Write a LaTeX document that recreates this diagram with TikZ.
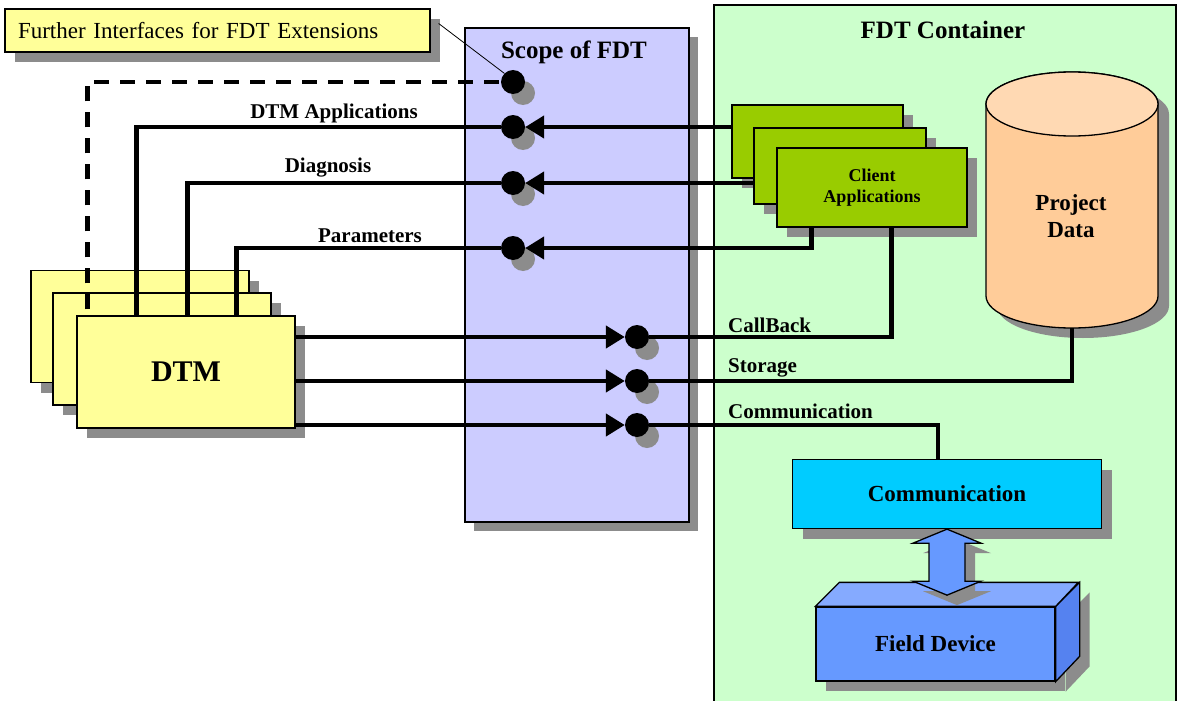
\documentclass[tikz,border=0pt]{standalone}
\usepackage{fontspec}
\setmainfont{Liberation Serif}
\usetikzlibrary{positioning, arrows.meta, shadows}
\definecolor{pale}{RGB}{255,255,153}
\definecolor{lila}{RGB}{204,204,255}
\definecolor{mint}{RGB}{204,255,204}
\definecolor{leaf}{RGB}{153,204,0}
\definecolor{peach}{RGB}{255,204,153}
\definecolor{peachtop}{RGB}{255,217,179}
\definecolor{sky}{RGB}{0,204,255}
\definecolor{devblue}{RGB}{102,153,255}
\definecolor{devtop}{RGB}{133,170,255}
\definecolor{devside}{RGB}{85,130,240}
\definecolor{shadowc}{RGB}{140,140,140}
\tikzset{
    shd/.style={drop shadow={shadow xshift=10pt, shadow yshift=-10pt, fill=shadowc, opacity=1}},
    ballshd/.style={drop shadow={shadow xshift=10pt, shadow yshift=-11pt, fill=shadowc, opacity=1}},
    card/.style={draw, line width=1.3pt, inner sep=0pt},
    dtm/.style={card, fill=pale, minimum width=218pt, minimum height=112pt, shd},
    cli/.style={card, fill=leaf, shd},
    ball/.style={circle, fill=black, minimum size=24pt, inner sep=0pt, ballshd},
    wire/.style={line width=4.5pt},
    sock/.style={wire, -{Triangle[length=19pt, width=22pt]}},
    lbl/.style={font=\fontsize{21}{24}\selectfont\bfseries, inner sep=0pt},
    ttl/.style={font=\fontsize{25}{28}\selectfont\bfseries, inner sep=0pt},
    big/.style={font=\fontsize{23}{27}\selectfont\bfseries, align=center},
}
\begin{document}
\begin{tikzpicture}[x=1pt, y=-1pt]
    \useasboundingbox (0,0) rectangle (1178,701);
    \fill[white] (0,0) rectangle (1178,701);

    \draw[line width=1.3pt, fill=mint] (714,5) rectangle (1176,712);
    \node[ttl] (contT) at (943,30) {FDT Container};
    \node[card, fill=lila, minimum width=224pt, minimum height=494pt,
        drop shadow={shadow xshift=9pt, shadow yshift=-9pt, fill=shadowc, opacity=1}] (scope) at (577,275) {};
    \node[ttl] (scopeT) at (574,52) {Scope of FDT};

    \node[card, fill=pale, shd, text width=399pt, inner xsep=13pt, minimum height=43pt, align=left,
        font=\fontsize{23}{26}\selectfont] (ext) at (217.5,30.5) {Further Interfaces for FDT Extensions};

    \node[dtm] (dtmC) at (140,326.5) {};
    \node[dtm] (dtmB) at (162,349) {};
    \node[dtm, font=\fontsize{30}{34}\selectfont\bfseries] (dtmA) at (186,372) {DTM};

    \node[cli, minimum width=171pt, minimum height=73pt] (cliC) at (817.5,141.5) {};
    \node[cli, minimum width=172pt, minimum height=76pt] (cliB) at (840,166) {};
    \node[cli, minimum width=190pt, minimum height=79pt, align=center,
        font=\fontsize{18}{21}\selectfont\bfseries] (cliA) at (872,187.5) {Client\\Applications};

    \fill[shadowc] (997,114) -- (997,306) arc[start angle=180, end angle=360, x radius=86pt, y radius=32pt]
        -- (1169,114) arc[start angle=0, end angle=180, x radius=86pt, y radius=32pt] -- cycle;
    \draw[line width=1.3pt, fill=peach] (986,104) -- (986,296) arc[start angle=180, end angle=360, x radius=86pt, y radius=32pt]
        -- (1158,104) arc[start angle=0, end angle=180, x radius=86pt, y radius=32pt] -- cycle;
    \draw[line width=1.3pt, fill=peachtop] (1072,104) ellipse[x radius=86pt, y radius=32pt];
    \node[big] (data) at (1071,216) {Project\\Data};
    \coordinate (dbot) at (1072,328);

    \node[card, fill=sky, shd, minimum width=309pt, minimum height=69pt, big] (comm) at (947,494) {Communication};
    \node[card, fill=devblue, shd, minimum width=239pt, minimum height=74pt, big] (field) at (935.5,644) {Field Device};
    \draw[card, fill=devside, shd] (field.north east) -- ++(24,-24) -- ++(0,74) -- (field.south east) -- cycle;
    \draw[card, fill=devtop] (field.north west) -- ++(24,-24) -- ++(239,0) -- (field.north east) -- cycle;
    \draw[card, fill=devblue, shd] (comm.south) -- ++(34,14) -- ++(-16,0) -- ++(0,38) -- ++(16,0) -- ++(-34,14)
        -- ++(-34,-14) -- ++(16,0) -- ++(0,-38) -- ++(-16,0) -- cycle;

    \node[ball] (p1) at (513,82) {};
    \node[ball] (p2) at (513,127) {};
    \node[ball] (p3) at (513,183) {};
    \node[ball] (p4) at (513,248) {};
    \node[ball] (q1) at (637,337) {};
    \node[ball] (q2) at (637,381) {};
    \node[ball] (q3) at (637,425) {};

    \draw[wire, dash pattern=on 15pt off 11pt] ([xshift=11pt, yshift=6pt]dtmA.north west) |- (p1.west);
    \draw[wire] ([xshift=60pt]dtmA.north west) |- (p2.west);
    \draw[wire] ([xshift=111pt]dtmA.north west) |- (p3.west);
    \draw[wire] ([xshift=160pt]dtmA.north west) |- (p4.west);
    \draw[sock] (cliC.west |- p2) -- (p2.east);
    \draw[sock] (cliB.west |- p3) -- (p3.east);
    \draw[sock] ([xshift=35pt]cliA.south west) |- (p4.east);
    \draw[sock] (dtmA.east |- q1) -- (q1.west);
    \draw[sock] (dtmA.east |- q2) -- (q2.west);
    \draw[sock] (dtmA.east |- q3) -- (q3.west);
    \draw[wire] (q1.east) -| ([xshift=115pt]cliA.south west);
    \draw[wire] (q2.east) -| (dbot);
    \draw[wire] (q3.east) -| ([xshift=-9pt]comm.north);
    \draw[line width=0.8pt] ([xshift=8pt, yshift=7pt]ext.east) -- (p1.north west);

    \node[lbl] (lApp) at (334,113) {DTM Applications};
    \node[lbl] (lDia) at (328,168) {Diagnosis};
    \node[lbl] (lPar) at (370,236) {Parameters};
    \node[lbl, anchor=west] (lCal) at (728,325) {CallBack};
    \node[lbl, anchor=west] (lSto) at (728,368) {Storage};
    \node[lbl, anchor=west] (lCom) at (728,411) {Communication};
\end{tikzpicture}
\end{document}
